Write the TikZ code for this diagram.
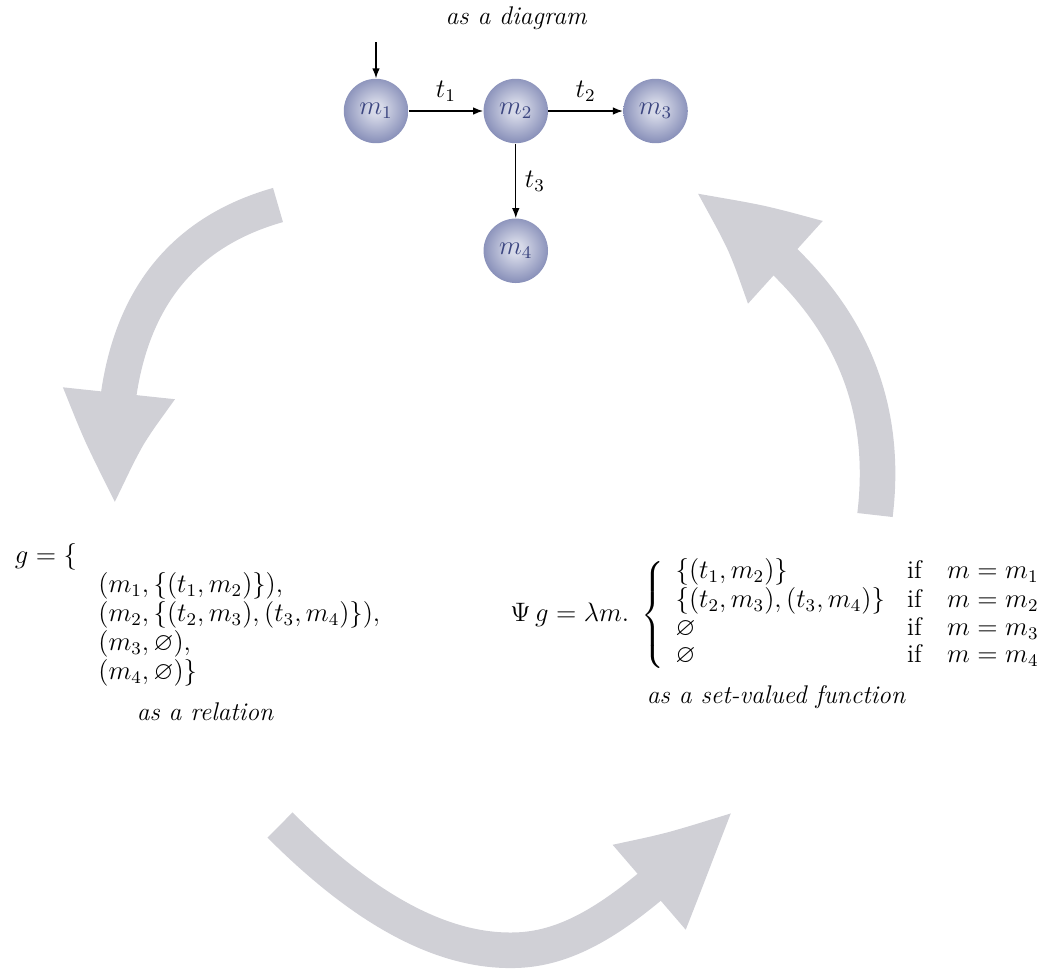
\documentclass[tikz,border=0pt]{standalone}
\usepackage{amsmath}
\usepackage{amssymb}
\usepackage{tikz}
\usetikzlibrary{arrows.meta,bending,positioning,shadings}

\definecolor{ballblue}{RGB}{76,86,138}
\definecolor{ballmid}{RGB}{128,136,180}
\definecolor{ballcore}{RGB}{214,217,232}
\definecolor{labelblue}{RGB}{60,70,128}
\definecolor{flowgray}{RGB}{208,208,214}

% lighter in the middle, slate blue at the rim
\pgfdeclareradialshading{stateball}{\pgfpoint{0bp}{2bp}}{%
  color(0bp)=(ballcore); color(5bp)=(ballcore); color(28bp)=(ballmid);
  color(50bp)=(ballblue); color(60bp)=(ballblue)}

\tikzset{
  state/.style   = {circle, minimum size=29pt, inner sep=0pt, shading=stateball,
                    text=labelblue},
  caption/.style = {font=\itshape},
  flow/.style    = {draw=flowgray, line width=16pt,
                    -{Triangle[length=56pt, width=44pt, bend]}}
}

\AtBeginDocument{\fontsize{11.5}{11.9}\selectfont}

\begin{document}
\begin{tikzpicture}[x=0.45pt, y=-0.45pt, >={Latex[length=4.5pt,width=3.4pt]},
  node distance=33.5pt]
\useasboundingbox (0,0) rectangle (1044,970);

% big grey arrows going round the three views
\coordinate (r1) at (278,205);
\coordinate (r2) at (117,508);
\coordinate (b1) at (280,825);
\coordinate (b2) at (735,809);
\coordinate (u1) at (875,515);
\coordinate (u2) at (692,192);
\draw[flow] (r1) .. controls (172,235) and (100,320) .. (r2);
\draw[flow] (b1) .. controls (345,890) and (430,955) .. (520,950)
                 .. controls (590,946) and (650,890) .. (b2);
\draw[flow] (u1) .. controls (890,390) and (840,280) .. (u2);

% the graph itself
\node[caption] (diag) at (516,18) {as a diagram};
\node[state] (m1) at (376,111) {$m_1$};
\node[state, right=of m1] (m2) {$m_2$};
\node[state, right=of m2] (m3) {$m_3$};
\node[state, below=of m2] (m4) {$m_4$};

\coordinate (init) at (376,42);
\draw[semithick,->] (init) -- (m1);
\draw[semithick,->] (m1) -- node[above] {$t_1$} (m2);
\draw[semithick,->] (m2) -- node[above] {$t_2$} (m3);
\draw[semithick,->] (m2) -- node[right] {$t_3$} (m4);

% as a relation
\node[anchor=west] (rel) at (6,557) {$g = \{$};
\node[anchor=north west, align=left, inner sep=0pt] (relbody) at (98,572)
  {$(m_1, \{(t_1, m_2)\}),$\\
   $(m_2, \{(t_2, m_3), (t_3, m_4)\}),$\\
   $(m_3, \varnothing),$\\
   $(m_4, \varnothing)\}$};
\node[caption] (relcap) at (205,712) {as a relation};

% as a set-valued function
\node[anchor=west, inner sep=0pt] (fun) at (510,615)
  {$\Psi\,g = \lambda m.\ \left\{\renewcommand\arraystretch{1.05}\begin{array}{ll}
      \{(t_1, m_2)\} & \text{if}\quad m = m_1\\
      \{(t_2, m_3), (t_3, m_4)\} & \text{if}\quad m = m_2\\
      \varnothing & \text{if}\quad m = m_3\\
      \varnothing & \text{if}\quad m = m_4
    \end{array}\right.$};
\node[caption] (funcap) at (776,697) {as a set-valued function};

\end{tikzpicture}
\end{document}
